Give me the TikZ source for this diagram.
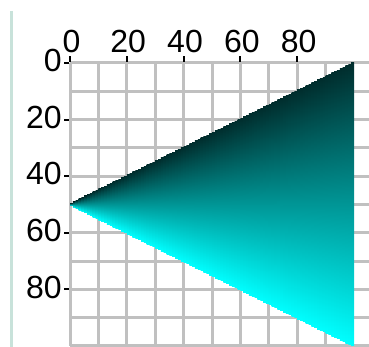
\documentclass[tikz,border=0pt]{standalone}
\usepackage{fontspec}
\setmainfont{Liberation Sans}
\definecolor{gridgray}{RGB}{192,192,192}
\definecolor{barmint}{RGB}{200,226,218}
\definecolor{tealdark}{RGB}{0,45,45}
\definecolor{tealbright}{RGB}{0,255,255}
\begin{document}
\begin{tikzpicture}[x=1.42pt,y=-1.415pt,
  gridline/.style={draw=gridgray,line width=1.5pt},
  tickmark/.style={draw=black,line width=1pt},
  ticklabel/.style={inner sep=0pt,font=\fontsize{16}{16}\selectfont}]
\useasboundingbox (-24.65,-22.26) rectangle (105.28,100.35);

\draw[barmint,line width=1.5pt] (-20.6,-18.4) -- (-20.6,100.35);

\foreach \i in {0,10,...,100}
  \draw[gridline] (0,\i) -- (105.28,\i);
\foreach \i in {0,10,...,90}
  \draw[gridline] (\i,0) -- (\i,100);

% triangle, one shaded strip per column
\foreach \i in {0,...,99}
  \shade[top color=tealdark,bottom color=tealbright]
    (\i,{50-(\i+1)/2}) rectangle ({\i+1.05},{50+(\i+1)/2});

\foreach \v in {0,20,...,80} {
  \draw[tickmark] (\v,-2.3) -- (\v,-0.4);
  \node[ticklabel,anchor=south] (xl\v) at (\v+0.5,-3.5) {\v};
  \draw[tickmark] (-2.1,\v) -- (-0.4,\v);
  \node[ticklabel,anchor=east] (yl\v) at (-2.8,\v-0.8) {\v};
}
\end{tikzpicture}
\end{document}
